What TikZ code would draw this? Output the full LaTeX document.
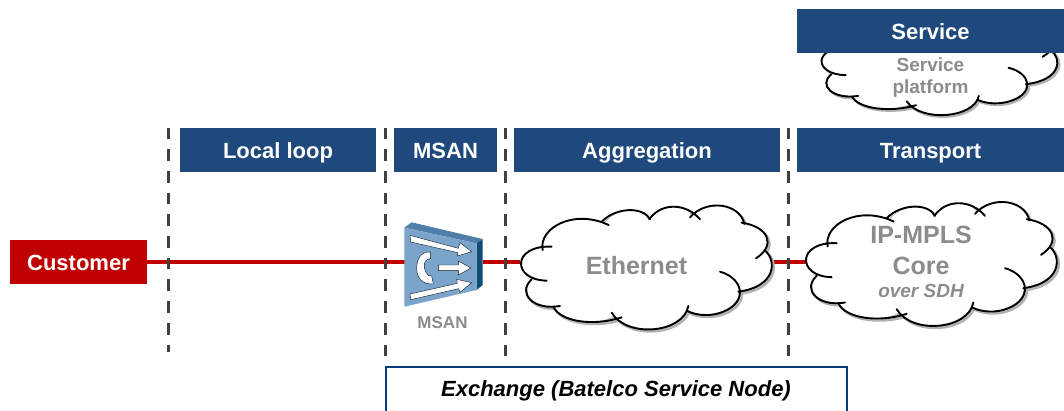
\documentclass[tikz,border=0pt]{standalone}
\usepackage{fontspec}
\setmainfont{Liberation Sans}
\definecolor{barblue}{HTML}{1F497D}
\definecolor{navyline}{HTML}{003C78}
\definecolor{custred}{HTML}{C00000}
\definecolor{dashgrey}{HTML}{404040}
\definecolor{labelgrey}{HTML}{8C8C8C}
\definecolor{faceblue}{HTML}{7BA4CB}
\definecolor{topblue}{HTML}{4F7EA8}
\definecolor{sideblue}{HTML}{0F4C78}
\tikzset{
  x=1pt,y=-1pt,
  bar/.style={fill=barblue,text=white,font=\fontsize{22}{24}\selectfont\bfseries,inner sep=0pt,anchor=center,text height=16pt,text depth=0pt},
  redbox/.style={fill=custred,text=white,font=\fontsize{22}{24}\selectfont\bfseries,inner sep=0pt,anchor=center,text height=16pt,text depth=0pt},
  divider/.style={draw=dashgrey,line width=3pt,dash pattern=on 11.7pt off 10pt},
  redline/.style={draw=custred,line width=3.2pt},
  cloudlabel/.style={text=labelgrey,font=\bfseries,align=center,inner sep=0pt},
  cloudink/.style={draw=black,line width=1.9pt,line cap=round,fill=none},
  cloudshade/.style={draw=black!30,line width=2.4pt,line cap=round,fill=none},
  arrowwhite/.style={fill=white,draw=black!70!sideblue,line width=.4pt,line join=round},
}
\newcommand{\cloudoutline}{%
  (100,172) .. controls (85,115) and (190,55) .. (285,98)
  .. controls (320,55) and (400,50) .. (420,85)
  .. controls (455,35) and (530,40) .. (545,80)
  .. controls (590,25) and (690,40) .. (700,98)
  .. controls (770,110) and (780,150) .. (768,182)
  .. controls (800,210) and (800,290) .. (685,305)
  .. controls (690,350) and (610,395) .. (530,362)
  .. controls (500,430) and (350,435) .. (312,378)
  .. controls (250,410) and (150,395) .. (130,350)
  .. controls (70,350) and (30,310) .. (65,268)
  .. controls (15,250) and (15,180) .. (100,172) -- cycle}
\newcommand{\cloudarcs}[1]{%
  \draw[#1] (98,180) .. controls (85,115) and (190,55) .. (296,105);
  \draw[#1] (275,95) .. controls (320,50) and (400,50) .. (420,88);
  \draw[#1] (418,88) .. controls (455,35) and (530,40) .. (570,88);
  \draw[#1] (540,82) .. controls (590,25) and (690,40) .. (703,102);
  \draw[#1] (695,98) .. controls (775,110) and (800,165) .. (738,205);
  \draw[#1] (765,182) .. controls (800,210) and (800,290) .. (685,305);
  \draw[#1] (630,245) .. controls (700,265) and (715,335) .. (640,365) .. controls (605,380) and (560,378) .. (530,362);
  \draw[#1] (535,348) .. controls (520,430) and (350,445) .. (305,368);
  \draw[#1] (335,382) .. controls (250,410) and (150,395) .. (130,350);
  \draw[#1] (150,348) .. controls (70,362) and (20,310) .. (65,268);
  \draw[#1] (110,272) .. controls (5,270) and (5,165) .. (125,170);
}
\newcommand{\drawcloud}[4]{%
  \begin{scope}[shift={(#1,#2)},xscale=#3/3,yscale=#4/3]
    \fill[black!25,shift={(6,6)}] \cloudoutline;
    \cloudarcs{cloudshade,shift={(6,6)}}
    \fill[white] \cloudoutline;
    \cloudarcs{cloudink}
  \end{scope}}
\begin{document}
\begin{tikzpicture}
\useasboundingbox (0,0) rectangle (1064,410);
\fill[white] (0,0) rectangle (1064,410);

% nodes that the red line runs between
\node[redbox,minimum width=137pt,minimum height=44pt] (customer) at (78.5,262) {Customer};
\coordinate (msanL) at (404.5,262);
\coordinate (msanR) at (482.5,262);
\coordinate (ethL) at (520,262);
\coordinate (ethR) at (772,262);
\coordinate (coreL) at (806,262);

\draw[redline] (customer.east) -- (msanL);
\draw[redline] (msanR) -- (ethL);
\draw[redline] (ethR) -- (coreL);

% dividers
\coordinate (d1a) at (168,127.5); \coordinate (d1b) at (168,352);
\coordinate (d2a) at (385,127.5); \coordinate (d2b) at (385,366);
\coordinate (d3a) at (505,127.5); \coordinate (d3b) at (505,366);
\coordinate (d4a) at (788,127.5); \coordinate (d4b) at (788,366);
\draw[divider] (d1a) -- (d1b);
\draw[divider] (d2a) -- (d2b);
\draw[divider] (d3a) -- (d3b);
\draw[divider] (d4a) -- (d4b);

% header bars
\node[bar,minimum width=196pt,minimum height=44pt] (loop) at (278,150) {Local loop};
\node[bar,minimum width=103pt,minimum height=44pt] (msanbar) at (445.5,150) {MSAN};
\node[bar,minimum width=266pt,minimum height=44pt] (aggbar) at (647,150) {Aggregation};
\node[bar,minimum width=267pt,minimum height=44pt] (transbar) at (930.5,150) {Transport};

% clouds
\drawcloud{811.2}{0.8}{0.94}{0.82}
\node[bar,minimum width=267pt,minimum height=44pt] (servicebar) at (930.5,31) {Service};
\node[cloudlabel,font=\fontsize{19}{22}\selectfont\bfseries] (serviceplat) at (930.5,77.5) {Service\\platform};

\drawcloud{510}{190}{1}{1}
\node[cloudlabel,font=\fontsize{25}{28}\selectfont\bfseries] (ethernet) at (636.5,265.5) {Ethernet};

\drawcloud{795}{186.5}{1}{1}
\node[cloudlabel,font=\fontsize{25}{28}\selectfont\bfseries] (ipmpls) at (921,234.5) {IP-MPLS};
\node[cloudlabel,font=\fontsize{25}{28}\selectfont\bfseries] (core) at (921,265.5) {Core};
\node[cloudlabel,font=\fontsize{19}{20}\selectfont\bfseries\itshape] (over) at (921,291) {over SDH};

% MSAN icon
\begin{scope}[shift={(380,200)},scale=1/3]
  \fill[topblue] (73,83) -- (95,67) -- (308,117) -- (290,130) -- cycle;
  \fill[sideblue] (290,130) -- (308,117) -- (308,255) -- (290,270) -- cycle;
  \fill[faceblue] (73,83) -- (290,130) -- (290,270) -- (73,320) -- cycle;
  % upper arrow
  \filldraw[arrowwhite] (90,106) -- (235,145) -- (240,128) -- (275,155) -- (232,168) -- (234,158) -- (92,126) -- cycle;
  % middle arrow
  \filldraw[arrowwhite] (175,195) -- (235,195) -- (235,183) -- (273,204) -- (235,225) -- (235,212) -- (175,212) -- cycle;
  % lower arrow
  \filldraw[arrowwhite] (90,282) -- (232,250) -- (230,238) -- (275,248) -- (240,277) -- (236,266) -- (92,299) -- cycle;
  % handset
  \filldraw[arrowwhite] (152,156) .. controls (122,155) and (111,175) .. (110,205)
     .. controls (110,232) and (125,254) .. (160,252) -- (155,228)
     .. controls (140,232) and (130,205) .. (133,192)
     .. controls (135,182) and (142,176) .. (152,176) -- cycle;
\end{scope}
\node[cloudlabel,font=\fontsize{17}{18}\selectfont\bfseries] (msanlabel) at (442.5,323) {MSAN};

% exchange box
\coordinate (exA) at (386,412);
\coordinate (exB) at (386,367);
\coordinate (exC) at (847,367);
\coordinate (exD) at (847,412);
\draw[navyline,line width=2pt] (exA) -- (exB) -- (exC) -- (exD);
\node[font=\fontsize{22}{24}\selectfont\bfseries\itshape,inner sep=0pt] (exchange) at (616,391) {Exchange (Batelco Service Node)};
\end{tikzpicture}
\end{document}
